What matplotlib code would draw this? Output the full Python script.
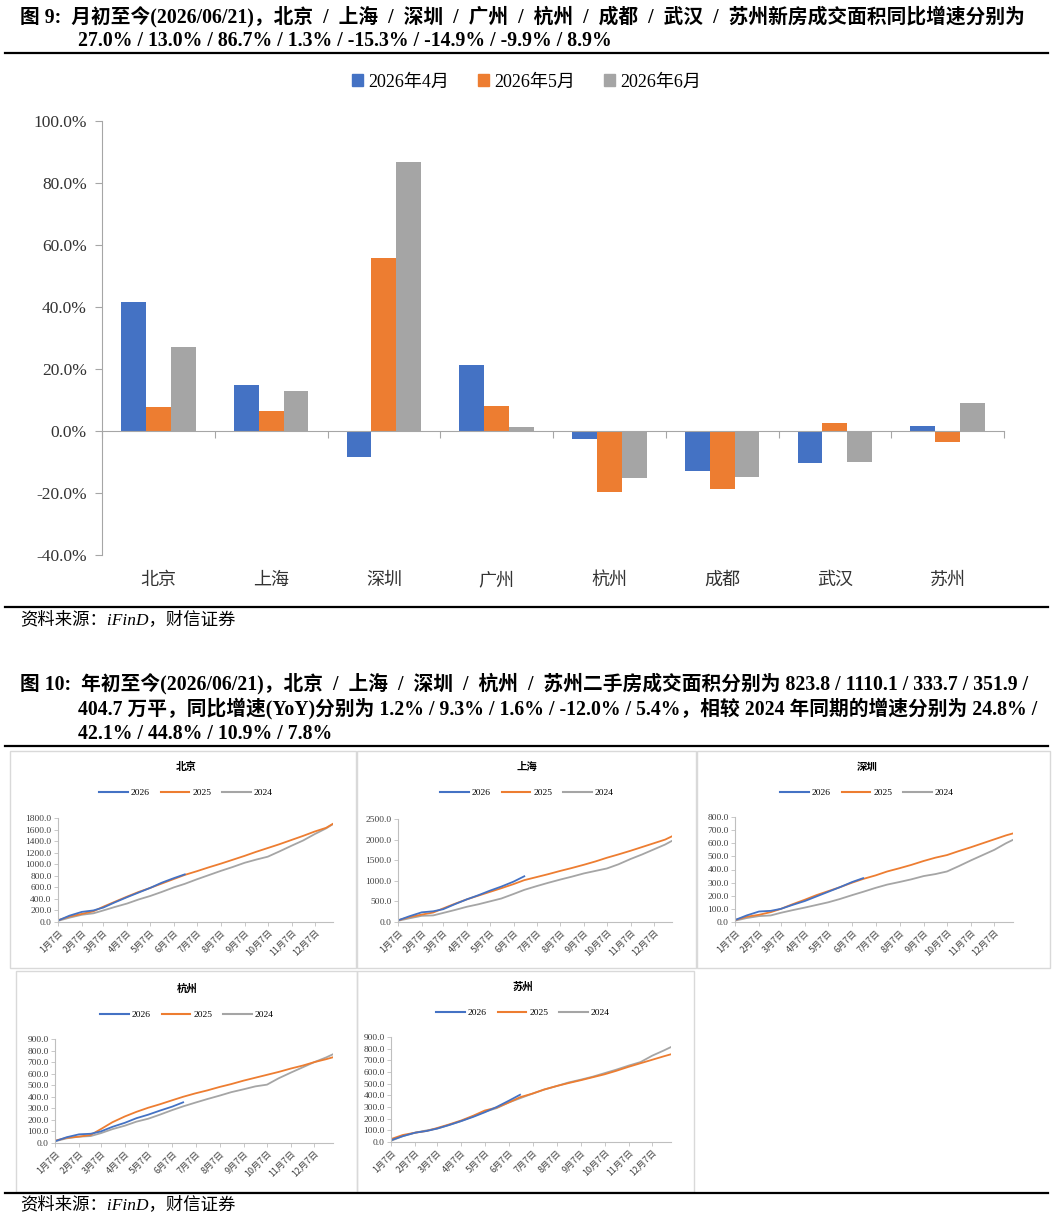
import numpy as np
import matplotlib
matplotlib.use("Agg")
import matplotlib.pyplot as plt
from matplotlib.lines import Line2D
from matplotlib.patches import Rectangle, Patch
from matplotlib.ticker import FuncFormatter

# ---- bar chart data (figure 9) ----
cities = ["北京", "上海", "深圳", "广州", "杭州", "成都", "武汉", "苏州"]
apr_2026 = [41.7, 14.7, -8.3, 21.4, -2.7, -12.8, -10.2, 1.5]
may_2026 = [7.7, 6.4, 55.8, 8.2, -19.8, -18.8, 2.5, -3.5]
jun_2026 = [27.0, 13.0, 86.7, 1.3, -15.3, -14.9, -9.9, 8.9]
bar_labels = ["2026年4月", "2026年5月", "2026年6月"]

# ---- cumulative second-hand area (figure 10) ----
dates = ["01-07", "01-22", "02-07", "02-22", "03-07", "03-22", "04-07", "04-22",
         "05-07", "05-22", "06-07", "06-21", "07-07", "07-22", "08-07", "08-22",
         "09-07", "09-22", "10-07", "10-22", "11-07", "11-22", "12-07", "12-22", "12-31"]

bj_2026 = [25, 110, 175, 200, 250, 340, 430, 510, 590, 680, 760, 824]
bj_2025 = [30, 95, 140, 185, 265, 350, 440, 520, 590, 665, 745, 815, 880, 945,
           1010, 1075, 1145, 1215, 1280, 1345, 1420, 1490, 1565, 1630, 1700]
bj_2024 = [20, 75, 125, 150, 200, 260, 320, 390, 450, 520, 600, 660, 740, 810,
           885, 950, 1025, 1080, 1130, 1220, 1320, 1410, 1520, 1620, 1695]

sh_2026 = [40, 140, 235, 260, 310, 430, 550, 650, 760, 860, 980, 1110]
sh_2025 = [40, 120, 180, 230, 330, 440, 550, 640, 730, 820, 920, 1016, 1090, 1160,
           1240, 1310, 1390, 1470, 1560, 1640, 1730, 1820, 1910, 2000, 2080]
sh_2024 = [30, 90, 150, 160, 220, 290, 370, 430, 500, 570, 680, 780, 870, 950,
           1030, 1100, 1180, 1240, 1300, 1400, 1530, 1640, 1760, 1880, 1970]

sz_2026 = [15, 50, 80, 85, 100, 130, 160, 195, 230, 265, 305, 334]
sz_2025 = [15, 40, 55, 75, 100, 135, 170, 205, 235, 265, 300, 328, 355, 385,
           410, 435, 465, 490, 510, 540, 570, 600, 630, 660, 675]
sz_2024 = [10, 30, 45, 50, 70, 90, 110, 130, 150, 175, 205, 230, 260, 285,
           305, 325, 350, 365, 385, 425, 470, 510, 550, 600, 626]

hz_2026 = [15, 50, 75, 80, 100, 140, 175, 215, 245, 280, 315, 352]
hz_2025 = [20, 45, 55, 70, 120, 180, 230, 270, 305, 335, 370, 400, 430, 455,
           485, 510, 540, 565, 590, 615, 645, 670, 700, 725, 742]
hz_2024 = [15, 40, 55, 60, 85, 120, 150, 185, 210, 245, 285, 317, 350, 380,
           410, 440, 465, 490, 505, 560, 610, 655, 700, 740, 768]

suz_2026 = [15, 50, 80, 95, 115, 145, 180, 215, 255, 300, 355, 405]
suz_2025 = [25, 60, 80, 95, 120, 150, 185, 225, 270, 295, 340, 384, 415, 450,
            480, 505, 530, 555, 580, 610, 645, 675, 705, 735, 752]
suz_2024 = [10, 50, 80, 100, 115, 145, 180, 220, 260, 290, 340, 375, 415, 450,
            480, 510, 535, 560, 590, 620, 655, 685, 740, 785, 814]

month_ticks = ["%d月7日" % m for m in range(1, 13)]

W, H = 1053, 1220
BLUE, ORANGE, GRAY = "#4472C4", "#ED7D31", "#A5A5A5"
SERIF = ["Liberation Serif", "Noto Sans CJK SC"]
CJK = ["Noto Sans CJK SC", "Liberation Serif"]

CUM = [0, 31, 59, 90, 120, 151, 181, 212, 243, 273, 304, 334]


def doy(s):
    m, d = s.split("-")
    return CUM[int(m) - 1] + int(d) - 1


xd = np.array([doy(s) for s in dates])
tick_x = [CUM[m] + 6 for m in range(12)]

fig = plt.figure(figsize=(W / 100, H / 100), dpi=100)


def box(l, t, r, b):
    return [l / W, 1 - b / H, (r - l) / W, (b - t) / H]


def ftext(x, y, s, **kw):
    return fig.text(x / W, 1 - y / H, s, transform=fig.transFigure, **kw)


def hrule(y, lw=1.6):
    fig.add_artist(Line2D([5 / W, 1048 / W], [1 - y / H, 1 - y / H],
                          color="black", lw=lw, transform=fig.transFigure))


# ---- titles ----
tkw = dict(family=SERIF, fontweight="bold", fontsize=14.2, va="center", ha="left")
ftext(20, 17, "图 9:  月初至今(2026/06/21)，北京  /  上海  /  深圳  /  广州  /  杭州  /  成都  /  武汉  /  苏州新房成交面积同比增速分别为", **tkw)
ftext(78, 41, "27.0% / 13.0% / 86.7% / 1.3% / -15.3% / -14.9% / -9.9% / 8.9%", **tkw)
hrule(53)

ftext(20, 684, "图 10:  年初至今(2026/06/21)，北京  /  上海  /  深圳  /  杭州  /  苏州二手房成交面积分别为 823.8 / 1110.1 / 333.7 / 351.9 /", **tkw)
ftext(78, 709, "404.7 万平，同比增速(YoY)分别为 1.2% / 9.3% / 1.6% / -12.0% / 5.4%，相较 2024 年同期的增速分别为 24.8% /", **tkw)
ftext(78, 734, "42.1% / 44.8% / 10.9% / 7.8%", **tkw)
hrule(746)

# ---- bar chart ----
ax = fig.add_axes(box(102, 121, 1004, 555))
x = np.arange(len(cities))
for k, (vals, col, lab) in enumerate(zip([apr_2026, may_2026, jun_2026],
                                          [BLUE, ORANGE, GRAY], bar_labels)):
    ax.bar(x + (k - 1) * 0.22, vals, width=0.22, color=col, label=lab)
ax.set_xlim(-0.5, 7.5)
ax.set_ylim(-40, 100)
ax.set_yticks(range(-40, 101, 20))
ax.yaxis.set_major_formatter(FuncFormatter(lambda v, p: "%.1f%%" % v))
ax.set_xticks(np.arange(-0.5, 8, 1))
ax.set_xticklabels([])
for s in ["top", "right"]:
    ax.spines[s].set_visible(False)
ax.spines["bottom"].set_position(("data", 0))
for s in ["bottom", "left"]:
    ax.spines[s].set_color("#A6A6A6")
ax.tick_params(axis="both", colors="#A6A6A6", length=5, width=0.8)
ax.tick_params(axis="y", labelcolor="#333333", labelsize=12.5, pad=6)
for lab in ax.get_yticklabels():
    lab.set_family(SERIF)
for i, c in enumerate(cities):
    ax.text(i, -48, c, ha="center", va="center", fontsize=13,
            family=CJK, color="#333333", clip_on=False)
handles = [Patch(color=c) for c in [BLUE, ORANGE, GRAY]]
ax.legend(handles, bar_labels, loc="center", ncol=3, frameon=False,
          bbox_to_anchor=(527 / W, 1 - 82 / H), bbox_transform=fig.transFigure,
          prop={"family": SERIF, "size": 13}, handlelength=0.6, handleheight=0.6,
          handletextpad=0.3, columnspacing=1.6)

ftext(20, 620, "资料来源：iFinD，财信证券", family=SERIF, style="italic",
      fontsize=12.5, va="center", ha="left")
hrule(607)

# ---- small line charts ----
panels = [
    ("北京", bj_2026, bj_2025, bj_2024, 1800, 200,
     (10, 751, 356, 968), (58, 818, 333, 922), 186, 767, 793),
    ("上海", sh_2026, sh_2025, sh_2024, 2500, 500,
     (357, 751, 696, 968), (398, 819, 672, 922), 527, 767, 793),
    ("深圳", sz_2026, sz_2025, sz_2024, 800, 100,
     (697, 751, 1050, 968), (735, 817, 1013, 922), 867, 767, 793),
    ("杭州", hz_2026, hz_2025, hz_2024, 900, 100,
     (16, 971, 357, 1192), (55, 1039, 333, 1143), 187, 989, 1015),
    ("苏州", suz_2026, suz_2025, suz_2024, 900, 100,
     (357, 971, 694, 1192), (391, 1037, 671, 1142), 523, 987, 1013),
]

for name, s26, s25, s24, ymax, step, frame, area, tx, ty, ly in panels:
    l, t, r, b = frame
    fig.add_artist(Rectangle((l / W, 1 - b / H), (r - l) / W, (b - t) / H,
                             transform=fig.transFigure, fill=False,
                             edgecolor="#D9D9D9", lw=1.0))
    a = fig.add_axes(box(*area))
    a.plot(xd[:len(s24)], s24, color=GRAY, lw=1.3, label="2024")
    a.plot(xd[:len(s25)], s25, color=ORANGE, lw=1.3, label="2025")
    a.plot(xd[:len(s26)], s26, color=BLUE, lw=1.3, label="2026")
    a.set_xlim(6, 364)
    a.set_ylim(0, ymax)
    a.set_yticks(np.arange(0, ymax + 1, step))
    a.yaxis.set_major_formatter(FuncFormatter(lambda v, p: "%.1f" % v))
    a.set_xticks(tick_x)
    a.set_xticklabels(month_ticks, rotation=45, ha="right", rotation_mode="anchor",
                      fontsize=6.5, family=CJK, color="#404040")
    for s in ["top", "right"]:
        a.spines[s].set_visible(False)
    for s in ["bottom", "left"]:
        a.spines[s].set_color("#BFBFBF")
    a.tick_params(axis="both", colors="#BFBFBF", length=3, width=0.6, pad=1.5)
    a.tick_params(axis="y", labelcolor="#404040", labelsize=6.8)
    a.tick_params(axis="x", labelcolor="#404040")
    for lab in a.get_yticklabels():
        lab.set_family(SERIF)
    ftext(tx, ty, name, family=CJK, fontweight="bold", fontsize=7.5,
          ha="center", va="center")
    hs = [Line2D([], [], color=c, lw=1.5) for c in [BLUE, ORANGE, GRAY]]
    a.legend(hs, ["2026", "2025", "2024"], loc="center", ncol=3, frameon=False,
             bbox_to_anchor=(tx / W, 1 - ly / H),
             bbox_transform=fig.transFigure, prop={"family": SERIF, "size": 6.8},
             handlelength=3.0, handletextpad=0.3, columnspacing=1.2)

ftext(20, 1205, "资料来源：iFinD，财信证券", family=SERIF, style="italic",
      fontsize=12.5, va="center", ha="left")
hrule(1193)

fig.savefig("out.png", dpi=100)
